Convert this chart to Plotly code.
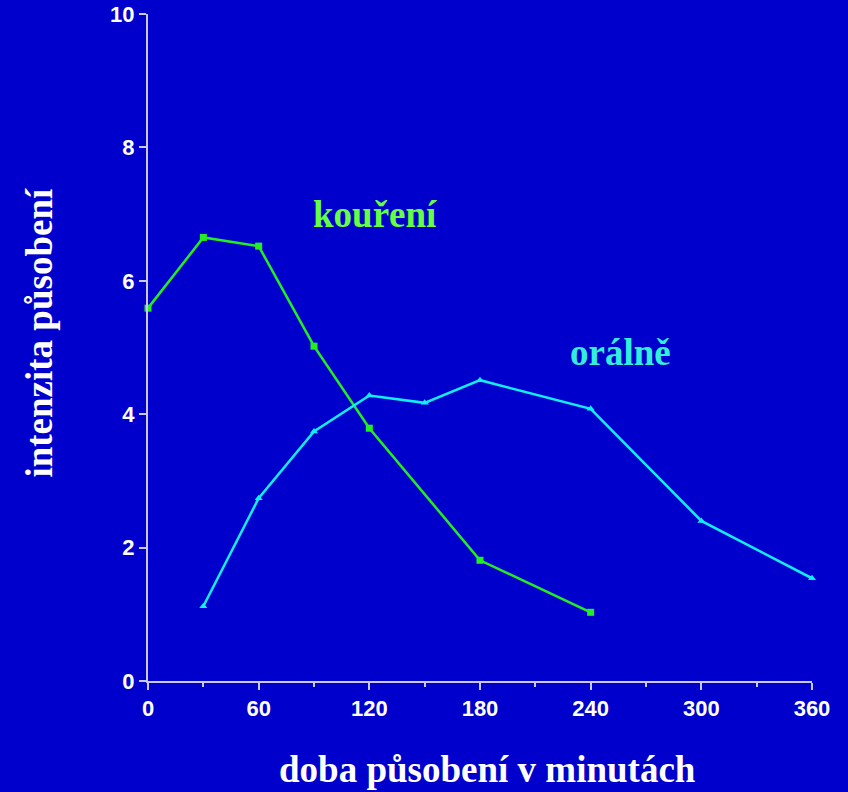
import plotly.graph_objects as go

# data
koureni_x = [0, 30, 60, 90, 120, 180, 240]
koureni_y = [5.59, 6.65, 6.52, 5.02, 3.79, 1.81, 1.03]
oralne_x = [30, 60, 90, 120, 150, 180, 240, 300, 360]
oralne_y = [1.12, 2.74, 3.74, 4.28, 4.17, 4.51, 4.08, 2.40, 1.54]
x_ticks = [0, 60, 120, 180, 240, 300, 360]
y_ticks = [0, 2, 4, 6, 8, 10]

BG = "#0000CC"
AX = "#C8C8F0"

fig = go.Figure()
fig.add_trace(go.Scatter(x=koureni_x, y=koureni_y, mode="lines+markers",
                         line=dict(color="#22EE22", width=2.5),
                         marker=dict(symbol="square", size=7, color="#22EE22"),
                         cliponaxis=False, name="kouření"))
fig.add_trace(go.Scatter(x=oralne_x, y=oralne_y, mode="lines+markers",
                         line=dict(color="#11EEFF", width=2.5),
                         marker=dict(symbol="triangle-up", size=7, color="#11EEFF"),
                         cliponaxis=False, name="orálně"))

fig.add_annotation(x=0.342, y=0.699, xref="paper", yref="paper", text="<b>kouření</b>",
                   xanchor="center", yanchor="middle",
                   showarrow=False, font=dict(family="Liberation Serif", size=37, color="#66FF44"))
fig.add_annotation(x=0.711, y=0.493, xref="paper", yref="paper", text="<b>orálně</b>",
                   xanchor="center", yanchor="middle",
                   showarrow=False, font=dict(family="Liberation Serif", size=37, color="#33EEDD"))
# axis titles
fig.add_annotation(x=0.511, y=-0.133, xref="paper", yref="paper",
                   text="<b>doba působení v minutách</b>", xanchor="center", yanchor="middle",
                   showarrow=False, font=dict(family="Liberation Serif", size=37, color="white"))
fig.add_annotation(x=-0.163, y=0.522, xref="paper", yref="paper", textangle=-90,
                   text="<b>intenzita působení</b>", xanchor="center", yanchor="middle",
                   showarrow=False, font=dict(family="Liberation Serif", size=37, color="white"))

fig.update_layout(
    width=848, height=792,
    paper_bgcolor=BG, plot_bgcolor=BG,
    margin=dict(l=148, r=36, t=14, b=111, autoexpand=False),
    showlegend=False,
    xaxis=dict(range=[0, 360], tickvals=x_ticks, showgrid=False, zeroline=False,
               showline=True, linecolor=AX, linewidth=2,
               ticks="outside", ticklen=7, tickcolor=AX, tickwidth=1.5,
               minor=dict(dtick=30, ticks="outside", ticklen=4, tickcolor=AX, tickwidth=1.5),
               tickfont=dict(family="Liberation Sans", size=22, color="white", weight="bold")),
    yaxis=dict(range=[0, 10], tickvals=y_ticks, showgrid=False, zeroline=False,
               showline=True, linecolor=AX, linewidth=2,
               ticks="outside", ticklen=7, tickcolor=AX, tickwidth=1.5,
               tickfont=dict(family="Liberation Sans", size=22, color="white", weight="bold")),
)

fig.write_html("out.html", config={"displayModeBar": False},
               post_script="document.body.style.margin='0';document.body.style.background='#0000CC';")
